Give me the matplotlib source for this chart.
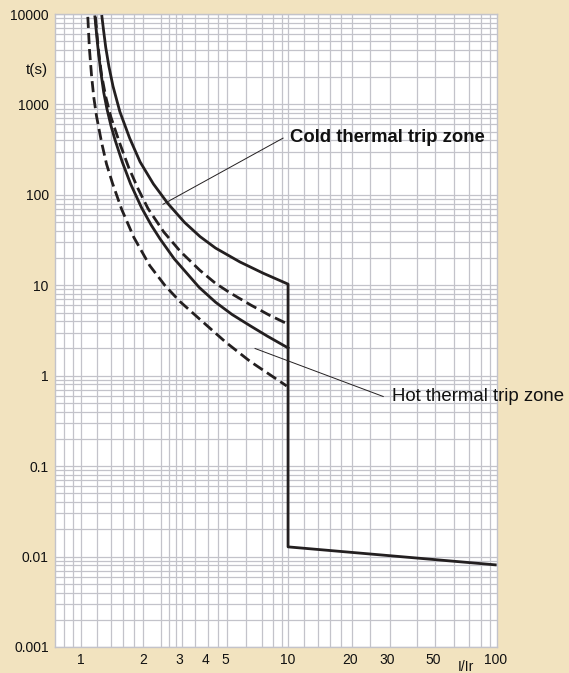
import matplotlib
matplotlib.use("Agg")
import matplotlib.pyplot as plt
from matplotlib.ticker import FixedLocator, FixedFormatter, NullFormatter

# Trip curves: current multiple I/Ir versus trip time t(s)
cold_upper_x = [1.263, 1.288, 1.318, 1.365, 1.429, 1.542, 1.718, 1.93, 2.239, 2.63, 3.162,
                3.758, 4.467, 5.861, 7.586, 10.0, 10.0, 100.0]
cold_upper_t = [9400, 6470, 4280, 2640, 1590, 832, 426, 232, 132, 80.2, 49.7,
                34.6, 25.8, 18.1, 13.6, 10.3, 0.0128, 0.0081]

hot_upper_x = [1.169, 1.202, 1.245, 1.288, 1.334, 1.396, 1.462, 1.585, 1.738, 1.963, 2.188,
               2.41, 2.818, 3.72, 4.467, 5.37, 6.56, 7.943, 10.0]
hot_upper_t = [9300, 4750, 2380, 1370, 906, 585, 405, 230, 132, 72, 46.1,
               32.6, 19.7, 9.5, 6.5, 4.75, 3.57, 2.74, 2.03]

cold_lower_x = [1.175, 1.216, 1.259, 1.318, 1.396, 1.54, 1.698, 1.884, 2.109, 2.512, 3.02,
                3.758, 4.467, 5.236, 6.607, 8.128, 9.8]
cold_lower_t = [9300, 3940, 2110, 1216, 724, 372, 203, 118, 70.5, 38.9, 23.7,
                14.6, 10.5, 8.28, 6.05, 4.67, 3.8]

hot_lower_x = [1.08, 1.10, 1.126, 1.155, 1.19, 1.259, 1.33, 1.42, 1.573, 1.8, 2.15,
               2.55, 3.01, 3.76, 5.0, 6.56, 9.85]
hot_lower_t = [9300, 4070, 2075, 1183, 740, 379, 219, 135, 69.3, 34, 16.5,
               9.9, 6.6, 4.19, 2.35, 1.44, 0.77]

x_ticks = [1, 2, 3, 4, 5, 10, 20, 30, 50, 100]
x_labels = ["1", "2", "3", "4", "5", "10", "20", "30", "50", "100"]
y_ticks = [0.001, 0.01, 0.1, 1, 10, 100, 1000, 10000]
y_labels = ["0.001", "0.01", "0.1", "1", "10", "100", "1000", "10000"]

# Chart-paper grid lines
x_grid = [0.83, 0.92, 1.0, 1.2, 1.4, 1.6, 1.8, 2.0, 2.43, 2.66, 2.88, 3.07, 3.55, 4.1, 4.6, 5.1,
          6.25, 7.5, 8.45, 9.35, 10, 12, 14, 16, 18, 20.4, 25, 31, 42, 51, 63, 74.5, 85, 94]
y_grid = [m * 10.0 ** e for e in range(-3, 4) for m in range(1, 10)] + [10000]

BG = "#F2E3BF"
GRID = "#C3C3CA"
INK = "#231F20"

plt.rcParams["font.family"] = ["Liberation Sans", "DejaVu Sans"]

fig = plt.figure(figsize=(5.69, 6.73), dpi=100, facecolor=BG)
ax = fig.add_axes([55 / 569, 26 / 673, 442 / 569, 633 / 673])
ax.set_facecolor("white")
ax.set_xscale("log")
ax.set_yscale("log")
ax.set_xlim(0.75, 102)
ax.set_ylim(0.001, 10000)

for gx in x_grid:
    ax.axvline(gx, color=GRID, lw=0.9, zorder=1)
for gy in y_grid:
    ax.axhline(gy, color=GRID, lw=0.9, zorder=1)

ax.xaxis.set_major_locator(FixedLocator(x_ticks))
ax.xaxis.set_major_formatter(FixedFormatter(x_labels))
ax.xaxis.set_minor_formatter(NullFormatter())
ax.yaxis.set_major_locator(FixedLocator(y_ticks))
ax.yaxis.set_major_formatter(FixedFormatter(y_labels))
ax.yaxis.set_minor_formatter(NullFormatter())
ax.tick_params(which="both", length=0, labelsize=10, colors="#111111")
ax.tick_params(axis="x", pad=4)
ax.tick_params(axis="y", pad=4.5)
for s in ax.spines.values():
    s.set_color(GRID)
    s.set_linewidth(1.0)

lw = 2.0
ax.plot(cold_upper_x, cold_upper_t, color=INK, lw=lw, solid_joinstyle="round", zorder=5)
ax.plot(hot_upper_x, hot_upper_t, color=INK, lw=lw, solid_joinstyle="round", zorder=5)
ax.plot(cold_lower_x, cold_lower_t, color=INK, lw=lw, dashes=(4, 1.8), zorder=5)
ax.plot(hot_lower_x, hot_lower_t, color=INK, lw=lw, dashes=(4, 1.8), zorder=5)

# Zone callouts
ax.plot([2.49, 9.46], [78.7, 424], color=INK, lw=0.7, zorder=6)
ax.text(10.2, 434, "Cold thermal trip zone", fontsize=13.3, fontweight="bold",
        color="#111111", ha="left", va="center", zorder=7)
ax.plot([6.93, 28.8], [2.0, 0.589], color=INK, lw=0.7, zorder=6, clip_on=False)
ax.text(31.8, 0.589, "Hot thermal trip zone", fontsize=13.4, color="#111111",
        ha="left", va="center", zorder=7, clip_on=False)

ax.text(-0.016, 0.9115, "t(s)", transform=ax.transAxes, fontsize=11,
        ha="right", va="center", color="#111111")
ax.text(0.93, -0.0316, "I/Ir", transform=ax.transAxes, fontsize=10,
        ha="center", va="center", color="#111111")

fig.savefig("out.png", dpi=100, facecolor=BG)
